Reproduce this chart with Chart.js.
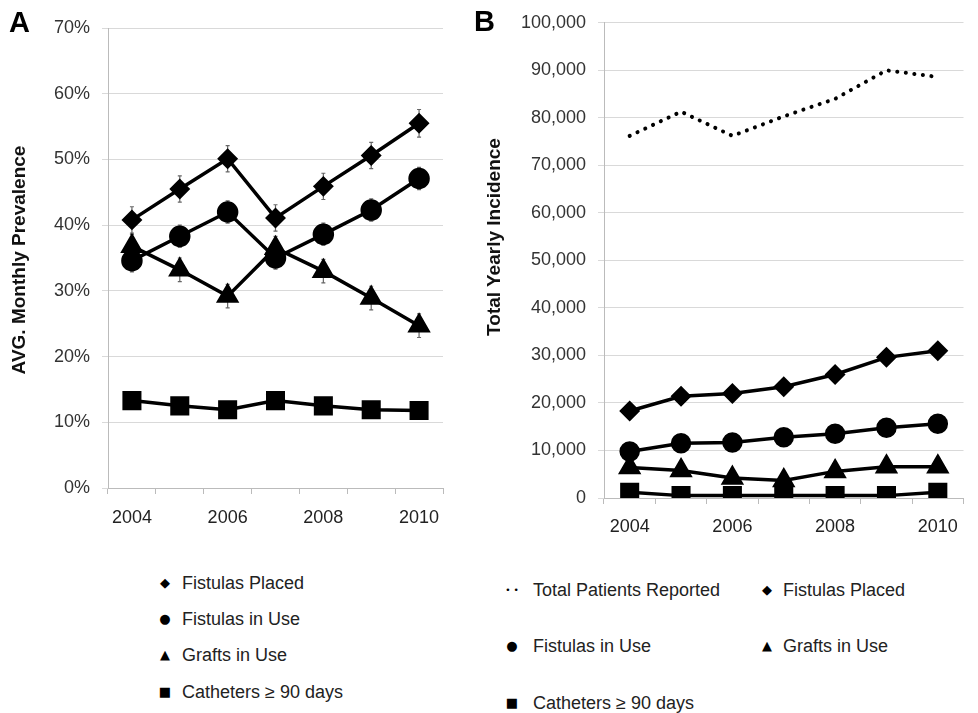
<!DOCTYPE html>
<html>
<head>
<meta charset="utf-8">
<script src="https://cdn.jsdelivr.net/npm/chart.js@4.4.1/dist/chart.umd.min.js"></script>
<style>
  body { margin: 0; background: #fff; width: 978px; height: 713px; position: relative; overflow: hidden;
         font-family: "Liberation Sans", Arial, sans-serif; color: #222; }
  canvas { position: absolute; top: 0; }
  .panel { position: absolute; font-weight: bold; font-size: 29px; color: #000; line-height: 1; }
  .ytitle { position: absolute; font-weight: bold; font-size: 19px; color: #111; white-space: nowrap;
            transform: translate(-50%, -50%) rotate(-90deg); }
  .leg { position: absolute; font-size: 18px; white-space: nowrap; transform: translateY(-50%); line-height: 22px; }
  .mk { position: absolute; font-family: "DejaVu Sans", sans-serif; font-size: 13px; color: #000;
        transform: translate(-50%, -50%); line-height: 14px; white-space: nowrap; }
</style>
</head>
<body>
<canvas id="chartA" width="470" height="540" style="left:0"></canvas>
<canvas id="chartB" width="498" height="540" style="left:480px"></canvas>
<div class="panel" style="left:9px;top:8px">A</div>
<div class="panel" style="left:474px;top:7px">B</div>
<div class="ytitle" style="left:18.5px;top:260px">AVG. Monthly Prevalence</div>
<div class="ytitle" style="left:493.5px;top:237px">Total Yearly Incidence</div>
<div id="legends"></div>
<script>
const years = ['2004', '2005', '2006', '2007', '2008', '2009', '2010'];

// panel A: average monthly prevalence (%)
const prevPlaced = [40.8, 45.5, 50.1, 41.1, 45.9, 50.6, 55.5];
const prevInUse = [34.6, 38.3, 42.0, 35.0, 38.6, 42.3, 47.1];
const prevGrafts = [36.8, 33.2, 29.2, 36.5, 33.0, 28.9, 24.7];
const prevCatheters = [13.3, 12.5, 11.9, 13.3, 12.5, 11.9, 11.8];
const errPlaced = [2.0, 2.0, 2.0, 2.0, 2.0, 2.0, 2.1];
const errInUse = [1.7, 1.7, 1.7, 1.7, 1.7, 1.7, 1.7];
const errGrafts = [1.8, 1.8, 1.8, 1.8, 1.8, 1.8, 1.8];

// panel B: total yearly incidence
const incTotal = [76200, 81300, 76200, 80300, 84000, 90000, 88600];
const incPlaced = [18300, 21400, 22000, 23400, 26000, 29600, 31000];
const incInUse = [9800, 11500, 11700, 12800, 13500, 14800, 15600];
const incGrafts = [6400, 5800, 4200, 3700, 5600, 6600, 6600];
const incCatheters = [1200, 500, 500, 500, 500, 500, 1200];

const FONT = '"Liberation Sans", Arial, sans-serif';

function lineSet(label, data, style, radius, errs) {
  return {
    label, data, errs,
    borderColor: '#000', backgroundColor: '#000',
    borderWidth: 3.5, pointStyle: style, pointRadius: radius,
    pointHoverRadius: radius, tension: 0
  };
}

const errorBars = {
  id: 'errorBars',
  beforeDatasetsDraw(chart) {
    const ctx = chart.ctx;
    const x = chart.scales.x, y = chart.scales.y;
    ctx.save();
    ctx.strokeStyle = '#666';
    ctx.lineWidth = 1.2;
    chart.data.datasets.forEach(ds => {
      if (!ds.errs) return;
      ds.data.forEach((v, i) => {
        const px = x.getPixelForValue(i);
        const top = y.getPixelForValue(v + ds.errs[i]);
        const bot = y.getPixelForValue(v - ds.errs[i]);
        ctx.beginPath();
        ctx.moveTo(px, top); ctx.lineTo(px, bot);
        ctx.moveTo(px - 2, top); ctx.lineTo(px + 2, top);
        ctx.moveTo(px - 2, bot); ctx.lineTo(px + 2, bot);
        ctx.stroke();
      });
    });
    ctx.restore();
  }
};

function makeOptions(cfg) {
  return {
    responsive: false,
    animation: false,
    layout: { padding: cfg.padding },
    plugins: { legend: { display: false }, tooltip: { enabled: false } },
    scales: {
      x: {
        type: 'category',
        offset: true,
        grid: { offset: true, drawOnChartArea: false, drawTicks: true, tickLength: 6, color: '#bbb' },
        border: { color: '#bbb' },
        ticks: {
          autoSkip: false, maxRotation: 0, padding: cfg.xPad, color: '#222',
          font: { family: FONT, size: 18 },
          callback(v, i) { return i % 2 === 0 ? this.getLabelForValue(v) : ''; }
        },
        afterFit(s) { s.height = cfg.xHeight; }
      },
      y: {
        min: 0, max: cfg.max,
        ticks: {
          stepSize: cfg.step, padding: 12, color: '#333',
          font: { family: FONT, size: 18 },
          callback: cfg.fmt
        },
        grid: { color: '#d9d9d9', lineWidth: 1, drawTicks: true, tickLength: 6 },
        border: { color: '#bbb' },
        afterFit(s) { s.width = cfg.yWidth; }
      }
    }
  };
}

new Chart(document.getElementById('chartA'), {
  type: 'line',
  data: {
    labels: years,
    datasets: [
      lineSet('Fistulas Placed', prevPlaced, 'rectRot', 8, errPlaced),
      lineSet('Fistulas in Use', prevInUse, 'circle', 9, errInUse),
      lineSet('Grafts in Use', prevGrafts, 'triangle', 10, errGrafts),
      lineSet('Catheters ≥ 90 days', prevCatheters, 'rect', 11)
    ]
  },
  options: makeOptions({
    padding: { top: 28, right: 27, left: 0, bottom: 0 },
    xHeight: 52, yWidth: 108, xPad: 13, max: 70, step: 10,
    fmt: v => v + '%'
  }),
  plugins: [errorBars]
});

const total = lineSet('Total Patients Reported', incTotal, 'circle', 0);
total.borderWidth = 4;
total.borderDash = [0.1, 8.5];
total.borderCapStyle = 'round';

new Chart(document.getElementById('chartB'), {
  type: 'line',
  data: {
    labels: years,
    datasets: [
      total,
      lineSet('Fistulas Placed', incPlaced, 'rectRot', 8),
      lineSet('Fistulas in Use', incInUse, 'circle', 8.5),
      lineSet('Grafts in Use', incGrafts, 'triangle', 10),
      lineSet('Catheters ≥ 90 days', incCatheters, 'rect', 11)
    ]
  },
  options: makeOptions({
    padding: { top: 21, right: 9, left: 0, bottom: 0 },
    xHeight: 42, yWidth: 124, xPad: 12, max: 100000, step: 10000,
    fmt: v => v.toLocaleString('en-US')
  })
});

// legends, laid out like the original figure
const legendItems = [
  { mk: '◆', text: 'Fistulas Placed', mx: 165, tx: 182, y: 583 },
  { mk: '●', text: 'Fistulas in Use', mx: 165, tx: 182, y: 619 },
  { mk: '▲', text: 'Grafts in Use', mx: 165, tx: 182, y: 655 },
  { mk: '■', text: 'Catheters ≥ 90 days', mx: 165, tx: 182, y: 692 },
  { mk: '• •', text: 'Total Patients Reported', mx: 512, tx: 533, y: 590 },
  { mk: '◆', text: 'Fistulas Placed', mx: 767, tx: 783, y: 590 },
  { mk: '●', text: 'Fistulas in Use', mx: 512, tx: 533, y: 646 },
  { mk: '▲', text: 'Grafts in Use', mx: 767, tx: 783, y: 646 },
  { mk: '■', text: 'Catheters ≥ 90 days', mx: 512, tx: 533, y: 703 }
];
const host = document.getElementById('legends');
legendItems.forEach(it => {
  const m = document.createElement('span');
  m.className = 'mk';
  m.style.left = it.mx + 'px';
  m.style.top = it.y + 'px';
  if (it.mk === '• •') m.style.fontSize = '9px';
  m.textContent = it.mk;
  host.appendChild(m);
  const t = document.createElement('span');
  t.className = 'leg';
  t.style.left = it.tx + 'px';
  t.style.top = it.y + 'px';
  t.textContent = it.text;
  host.appendChild(t);
});
</script>
</body>
</html>
